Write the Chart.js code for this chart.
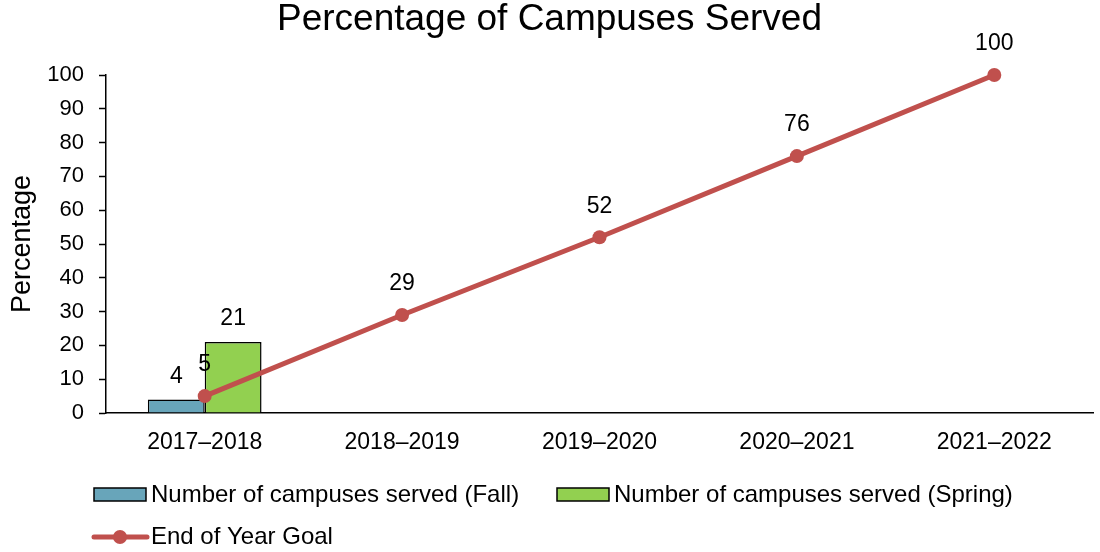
<!DOCTYPE html>
<html>
<head>
<meta charset="utf-8">
<title>Percentage of Campuses Served</title>
<script src="https://cdn.jsdelivr.net/npm/chart.js@4/dist/chart.umd.min.js"></script>
<style>
    html, body { margin: 0; padding: 0; background: #ffffff; }
    #chartBox { width: 1100px; height: 552px; }
</style>
</head>
<body>
<div id="chartBox"><canvas id="campusChart" width="1100" height="552"></canvas></div>
<script>
// Dados do gráfico
const anos = ['2017–2018', '2018–2019', '2019–2020', '2020–2021', '2021–2022'];
const outono = [4, null, null, null, null];
const primavera = [21, null, null, null, null];
const metaAnual = [5, 29, 52, 76, 100];

const FONTE = "'Liberation Sans', Arial, sans-serif";

// Rótulos com os valores por cima de barras e pontos
const rotulosPlugin = {
    id: 'rotulos',
    afterDatasetsDraw(chart) {
        const ctx = chart.ctx;
        ctx.save();
        ctx.font = '23px ' + FONTE;
        ctx.fillStyle = '#000000';
        ctx.textAlign = 'center';
        ctx.textBaseline = 'middle';
        chart.data.datasets.forEach((ds, i) => {
            const meta = chart.getDatasetMeta(i);
            const offset = ds.type === 'line' ? 31 : 23;
            meta.data.forEach((el, j) => {
                const v = ds.data[j];
                if (v === null || v === undefined) return;
                ctx.fillText(String(v), el.x, el.y - offset);
            });
        });
        ctx.restore();
    }
};

// Legenda desenhada à mão (a linha com o ponto no meio)
const legendaPlugin = {
    id: 'legenda',
    afterDraw(chart) {
        const ctx = chart.ctx;
        const ds = chart.data.datasets;
        ctx.save();
        ctx.font = '24px ' + FONTE;
        ctx.textBaseline = 'middle';
        ctx.textAlign = 'left';

        const caixa = (x, y, d) => {
            ctx.fillStyle = d.backgroundColor;
            ctx.fillRect(x, y, 52, 13);
            ctx.strokeStyle = '#000000';
            ctx.lineWidth = 1.5;
            ctx.strokeRect(x, y, 52, 13);
        };

        caixa(94, 488, ds[1]);
        ctx.fillStyle = '#000000';
        ctx.fillText(ds[1].label, 151, 495);

        caixa(557, 488, ds[2]);
        ctx.fillStyle = '#000000';
        ctx.fillText(ds[2].label, 614, 495);

        // linha da meta
        ctx.strokeStyle = ds[0].borderColor;
        ctx.lineWidth = 5;
        ctx.lineCap = 'round';
        ctx.beginPath();
        ctx.moveTo(94, 537);
        ctx.lineTo(147, 537);
        ctx.stroke();
        ctx.fillStyle = ds[0].borderColor;
        ctx.beginPath();
        ctx.arc(120, 537, 7, 0, Math.PI * 2);
        ctx.fill();
        ctx.fillStyle = '#000000';
        ctx.fillText(ds[0].label, 151, 537);
        ctx.restore();
    }
};

const ctx = document.getElementById('campusChart').getContext('2d');
const campusChart = new Chart(ctx, {
    data: {
        labels: anos,
        datasets: [
            {
                type: 'line',
                label: 'End of Year Goal',
                data: metaAnual,
                borderColor: '#C0504D',
                backgroundColor: '#C0504D',
                borderWidth: 5,
                pointRadius: 7,
                pointBackgroundColor: '#C0504D',
                pointBorderWidth: 0,
                clip: false,
                order: 0
            },
            {
                type: 'bar',
                label: 'Number of campuses served (Fall)',
                data: outono,
                backgroundColor: '#68A5BA',
                borderColor: '#000000',
                borderWidth: 1.5,
                categoryPercentage: 0.576,
                barPercentage: 1,
                order: 1
            },
            {
                type: 'bar',
                label: 'Number of campuses served (Spring)',
                data: primavera,
                backgroundColor: '#92D050',
                borderColor: '#000000',
                borderWidth: 1.5,
                categoryPercentage: 0.576,
                barPercentage: 1,
                order: 1
            }
        ]
    },
    options: {
        responsive: false,
        maintainAspectRatio: false,
        animation: false,
        layout: {
            padding: { left: 0, right: 1, top: 0, bottom: 90 }
        },
        plugins: {
            legend: { display: false },
            tooltip: { enabled: false },
            title: {
                display: true,
                text: 'Percentage of Campuses Served',
                color: '#000000',
                font: { family: FONTE, size: 37, weight: 'normal', lineHeight: 1.0 },
                padding: { top: 1.5, bottom: 36.5 }
            }
        },
        scales: {
            x: {
                grid: {
                    display: true,
                    drawOnChartArea: false,
                    drawTicks: false
                },
                border: { display: true, color: '#000000', width: 1.5 },
                ticks: {
                    color: '#000000',
                    font: { family: FONTE, size: 23 },
                    padding: 16,
                    maxRotation: 0
                },
                afterFit(scale) {
                    scale.height = 49;
                }
            },
            y: {
                min: 0,
                max: 100,
                grid: {
                    display: true,
                    drawOnChartArea: false,
                    drawTicks: true,
                    tickLength: 7,
                    tickColor: '#000000',
                    tickWidth: 1.5
                },
                border: { display: true, color: '#000000', width: 1.5 },
                ticks: {
                    stepSize: 10,
                    color: '#000000',
                    font: { family: FONTE, size: 22 },
                    padding: 15
                },
                title: {
                    display: true,
                    text: 'Percentage',
                    color: '#000000',
                    font: { family: FONTE, size: 27 },
                    padding: { top: 6, bottom: 0 }
                },
                afterFit(scale) {
                    scale.width = 106;
                }
            }
        }
    },
    plugins: [rotulosPlugin, legendaPlugin]
});
</script>
</body>
</html>
